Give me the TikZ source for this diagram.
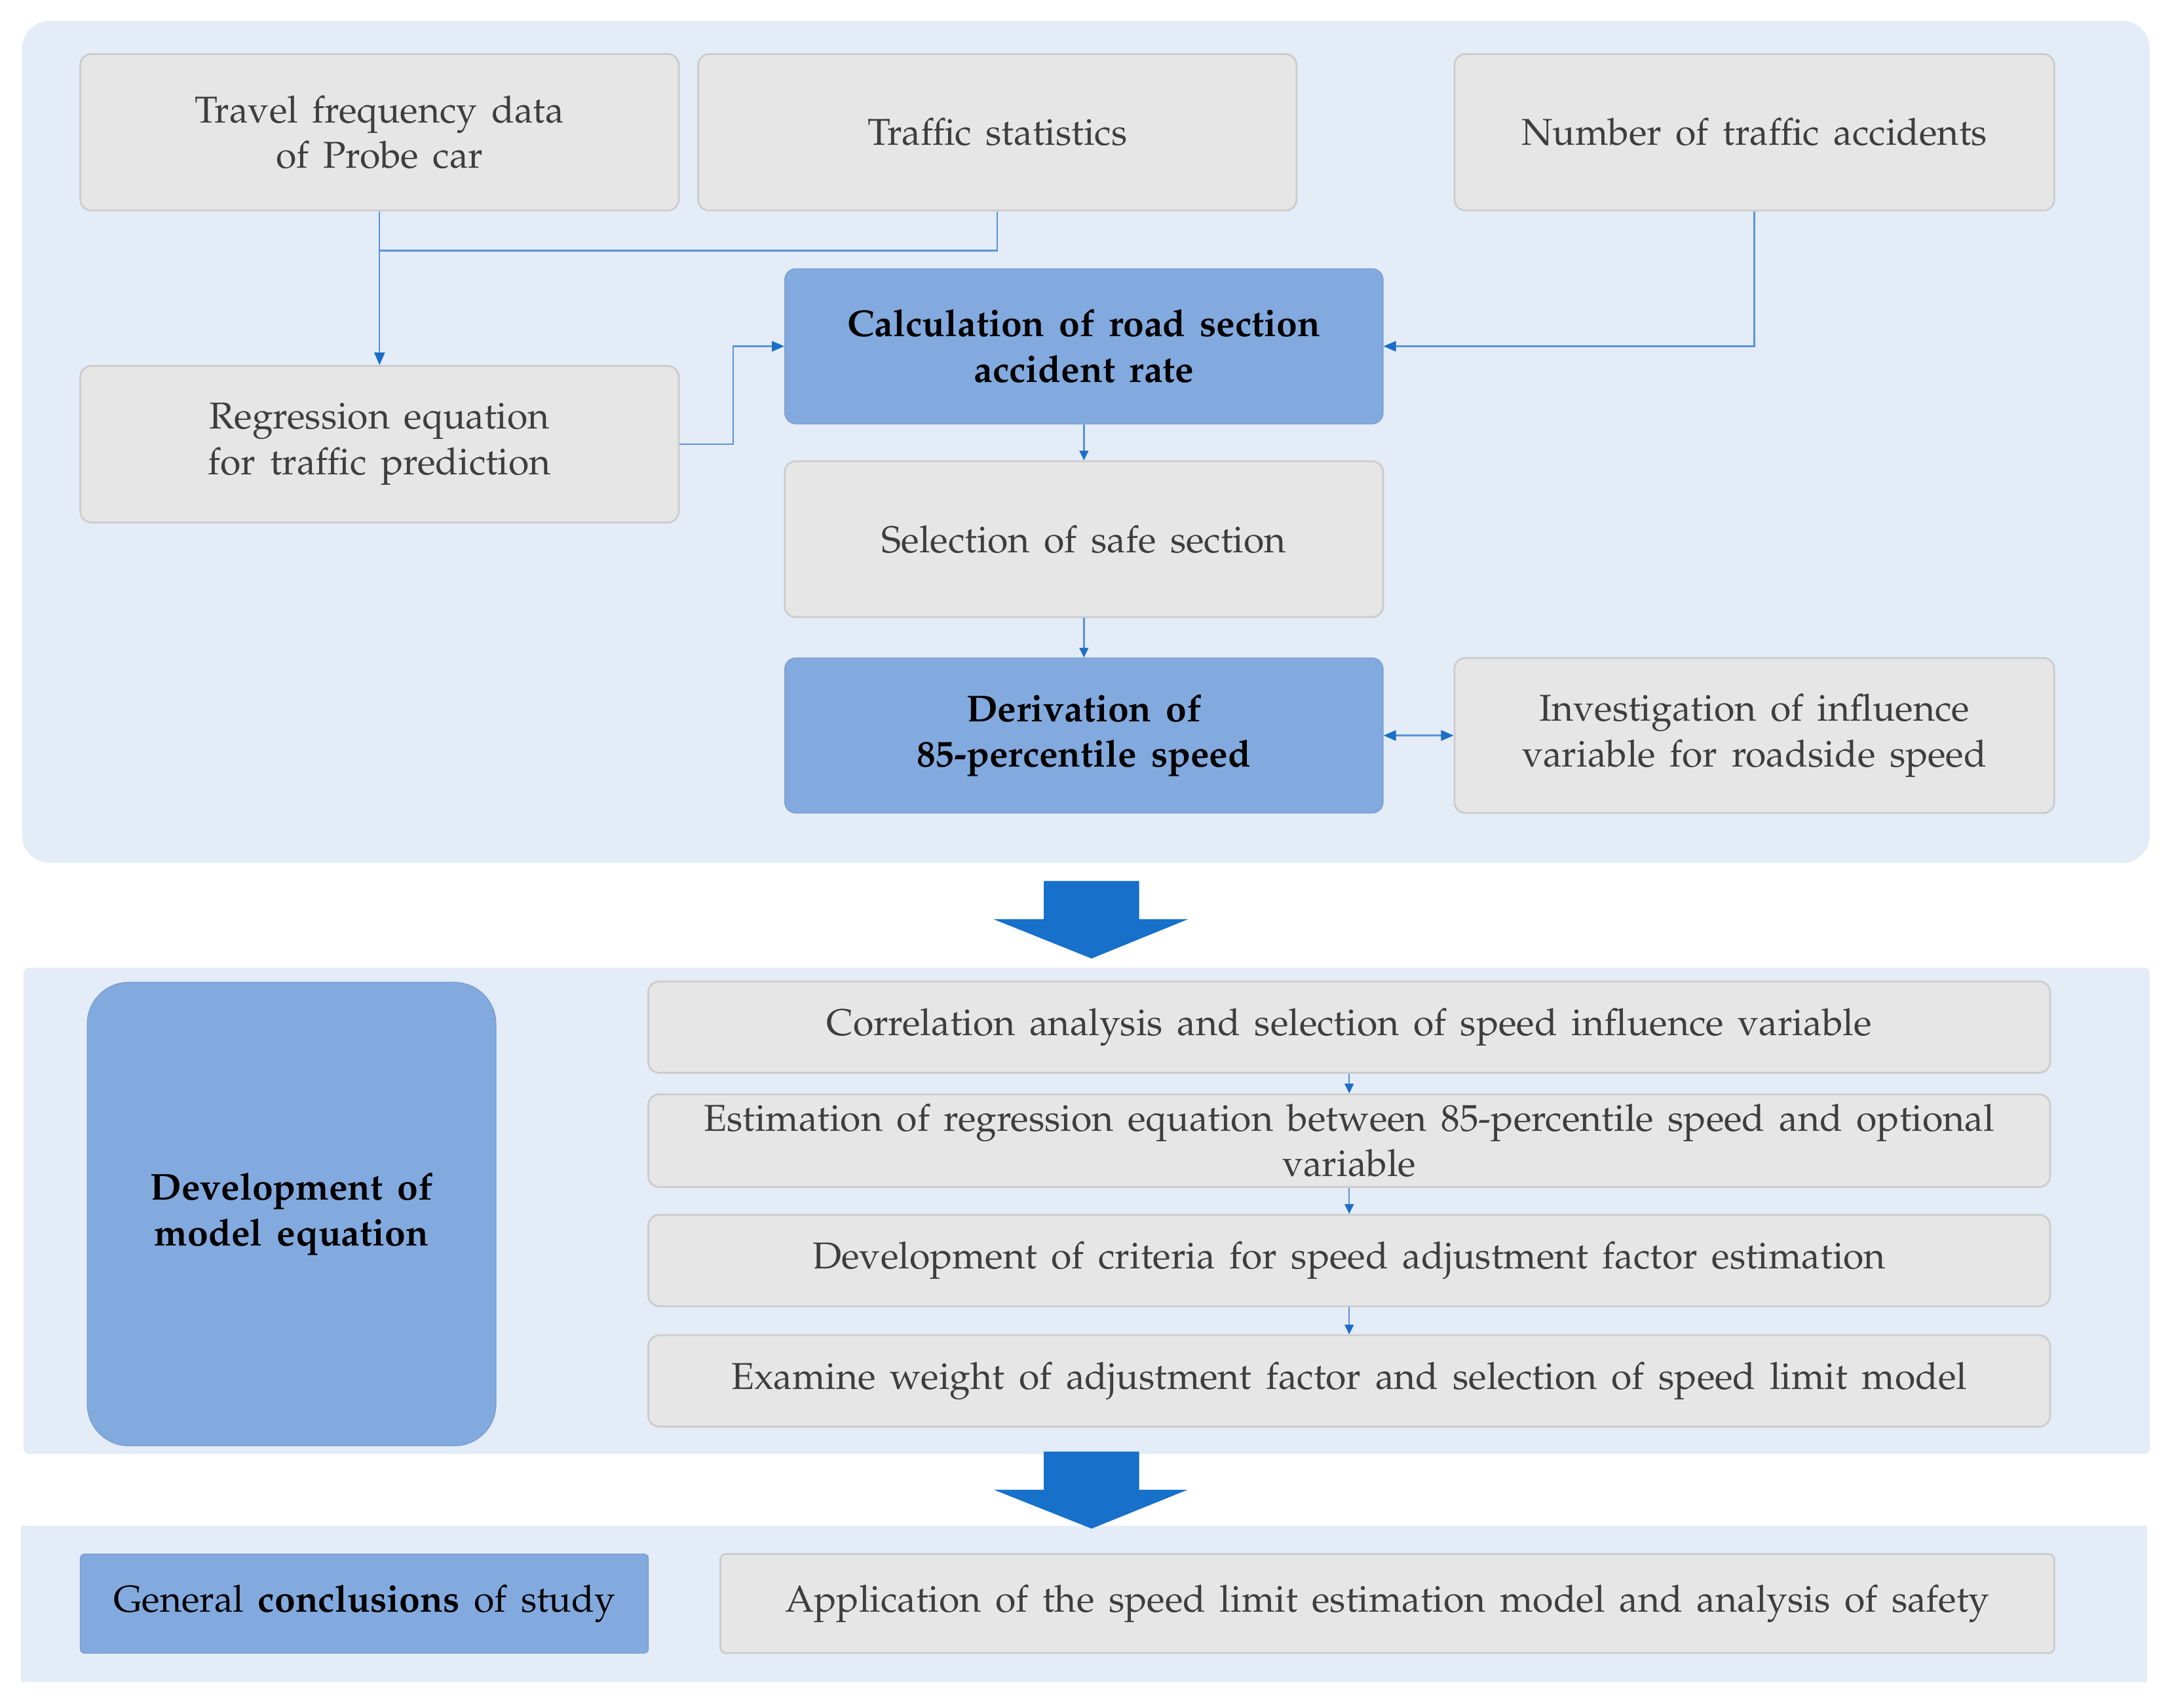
\documentclass[tikz,border=0pt]{standalone}
\usepackage[T1]{fontenc}
\renewcommand{\rmdefault}{ppl}
\usetikzlibrary{arrows.meta}
\definecolor{panelfill}{HTML}{E3ECF7}
\definecolor{gboxfill}{HTML}{E6E6E6}
\definecolor{gboxline}{HTML}{CCCCCC}
\definecolor{bboxfill}{HTML}{83AADF}
\definecolor{connline}{HTML}{5A93DA}
\definecolor{tipblue}{HTML}{1B6EC8}
\definecolor{bigblue}{HTML}{1770C9}
\definecolor{gtext}{HTML}{3E3E3E}
\newcommand{\boxfont}{\fontsize{27}{33}\selectfont\spaceskip=0.38em plus 0.1em minus 0.05em\relax}
\tikzset{
  gbox/.style={draw=gboxline, line width=1.3pt, fill=gboxfill, rounded corners=8pt,
    align=center, text=gtext, font=\boxfont, inner sep=0pt},
  bbox/.style={draw=bboxfill!92!black, line width=0.6pt, fill=bboxfill, rounded corners=8pt,
    align=center, text=black, font=\boxfont\bfseries, inner sep=0pt},
  link/.style={draw=connline, line width=1.1pt},
  tip/.style={-{Triangle[length=9pt,width=7.5pt,color=tipblue]}},
  stip/.style={-{Triangle[length=7pt,width=6.5pt,color=tipblue]}},
  dtip/.style={{Triangle[length=9pt,width=7.5pt,color=tipblue]}-{Triangle[length=9pt,width=7.5pt,color=tipblue]}},
  panel/.style={fill=panelfill},
}
\begin{document}
\begin{tikzpicture}[x=1pt,y=-1pt]
\useasboundingbox (0,0) rectangle (1568,1233);
% panels
\fill[panel, rounded corners=20pt] (16,15) rectangle (1552,623);
\fill[panel, rounded corners=4pt] (17,698.5) rectangle (1552,1049.7);
\fill[panel] (15,1101.7) rectangle (1550,1214);
% top section boxes
\node[gbox, minimum width=432pt, minimum height=113pt] (travel) at (274,95.5) {Travel frequency data\\of Probe car};
\node[gbox, minimum width=432pt, minimum height=113pt] (traffic) at (720,95.5) {Traffic statistics};
\node[gbox, minimum width=433pt, minimum height=113pt] (number) at (1266.5,95.5) {Number of traffic accidents};
\node[bbox, minimum width=432pt, minimum height=112pt] (calc) at (782.5,250) {Calculation of road section\\accident rate};
\node[gbox, minimum width=432pt, minimum height=113pt] (regr) at (274,320.7) {Regression equation\\for traffic prediction};
\node[gbox, minimum width=432pt, minimum height=112.6pt] (safe) at (782.5,389.3) {Selection of safe section};
\node[bbox, minimum width=432pt, minimum height=112pt] (deriv) at (782.5,531) {Derivation of\\85-percentile speed};
\node[gbox, minimum width=433pt, minimum height=112pt] (invest) at (1266.5,531) {Investigation of influence\\variable for roadside speed};
% top connectors
\coordinate (j1) at (274,181);
\draw[link, tip] (travel.south) -- (regr.north);
\draw[link] (traffic.south) |- (j1);
\draw[link, tip] (regr.east) -- ++(38.5,0) |- (calc.west);
\draw[link, tip] (number.south) |- (calc.east);
\draw[link, stip] (calc.south) -- (safe.north);
\draw[link, stip] (safe.south) -- (deriv.north);
\draw[link, dtip] (deriv.east) -- (invest.west);
% big arrows
\fill[bigblue] (753.5,636) -- (822.4,636) -- (822.4,663.7) -- (857.5,663.7) -- (788,692) -- (717.4,663.7) -- (753.5,663.7) -- cycle;
\fill[bigblue] (753.5,1048) -- (822.4,1048) -- (822.4,1075.5) -- (857.5,1075.5) -- (788,1103.6) -- (717.4,1075.5) -- (753.5,1075.5) -- cycle;
% middle section
\node[bbox, rounded corners=30pt, minimum width=295pt, minimum height=334.6pt] (devel) at (210.5,876.5) {Development of\\model equation};
\node[gbox, minimum width=1012pt, minimum height=66pt] (m1) at (974,741.5) {Correlation analysis and selection of speed influence variable};
\node[gbox, minimum width=1012pt, minimum height=67pt] (m2) at (974,823.5) {Estimation of regression equation between 85-percentile speed and optional\\variable};
\node[gbox, minimum width=1012pt, minimum height=66pt] (m3) at (974,910) {Development of criteria for speed adjustment factor estimation};
\node[gbox, minimum width=1012pt, minimum height=66pt] (m4) at (974,997) {Examine weight of adjustment factor and selection of speed limit model};
\draw[link, stip] (m1.south) -- (m2.north);
\draw[link, stip] (m2.south) -- (m3.north);
\draw[link, stip] (m3.south) -- (m4.north);
% bottom section
\node[bbox, font=\boxfont, rounded corners=3pt, minimum width=410pt, minimum height=71.5pt] (concl) at (263,1157.75) {General \textbf{conclusions} of study};
\node[gbox, rounded corners=4pt, minimum width=963pt, minimum height=71.5pt] (appl) at (1001.5,1157.75) {Application of the speed limit estimation model and analysis of safety};
\end{tikzpicture}
\end{document}
